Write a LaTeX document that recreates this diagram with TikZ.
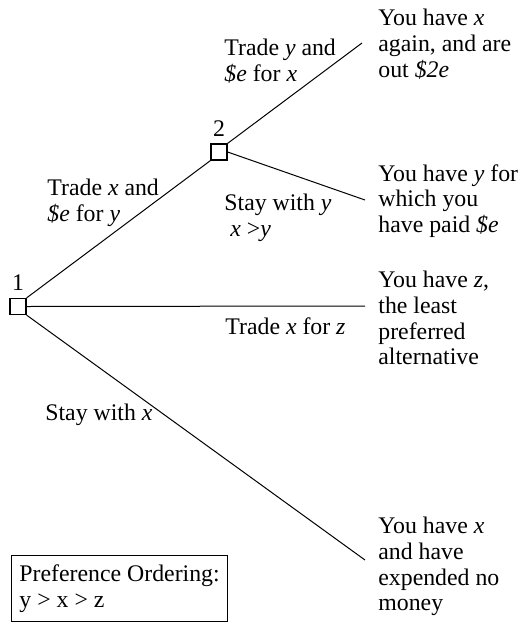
\documentclass[tikz,border=0pt]{standalone}
\usepackage{fontspec}
\setmainfont{Liberation Serif}
\usetikzlibrary{positioning}

\begin{document}
\begin{tikzpicture}[
    x=0.5pt, y=-0.5pt,
    font=\fontsize{11.9}{12.8}\selectfont,
    decision/.style={rectangle, draw, line width=0.6pt, minimum size=8pt, inner sep=0pt},
    txt/.style={anchor=north west, inner sep=0pt, align=left},
    branch/.style={line width=0.5pt}
]
\useasboundingbox (0,0) rectangle (521,622);

% -------- Decision nodes --------
\node[decision] (n1) at (18,306.5) {};
\node[decision] (n2) at (219,152) {};
\node[above=3.5pt of n1, inner sep=0pt] (l1) {1};
\node[above=3.5pt of n2, inner sep=0pt] (l2) {2};

% -------- Branch ends --------
\coordinate (e1) at (362,43);
\coordinate (e2) at (365,200);
\coordinate (e3) at (365,306);
\coordinate (e4) at (365,560);

% -------- Outcomes --------
\node[txt] (o1) at (378,9) {You have \textit{x}\\again, and are\\out \textit{\$2e}};
\node[txt] (o2) at (378,164) {You have \textit{y} for\\which you\\have paid \textit{\$e}};
\node[txt] (o3) at (378,271) {You have \textit{z},\\the least\\preferred\\alternative};
\node[txt] (o4) at (378,517) {You have \textit{x}\\and have\\expended no\\money};

% -------- Branch labels --------
\node[txt] (b12) at (47,179) {Trade \textit{x} and\\\textit{\$e} for \textit{y}};
\node[txt] (b21) at (224,39) {Trade \textit{y} and\\\textit{\$e} for \textit{x}};
\node[txt] (b22) at (224,194) {Stay with \textit{y}\\\ \textit{x} >\textit{y}};
\node[txt] (b13) at (225,317) {Trade \textit{x} for \textit{z}};
\node[txt] (b14) at (45,404) {Stay with \textit{x}};

% -------- Preference box --------
\node[draw, line width=0.6pt, anchor=north west, minimum width=108pt, minimum height=33pt,
      align=left] (pref) at (11,555)
      {Preference Ordering:\\y > x > z};

% -------- Branches --------
\draw[branch] (n1.north east) -- (n2.south west);
\draw[branch] (n2.north east) -- (e1);
\draw[branch] (n2.east) -- (e2);
\draw[branch] (n1.east) -- (e3);
\draw[branch] (n1.south east) -- (e4);

\end{tikzpicture}
\end{document}
